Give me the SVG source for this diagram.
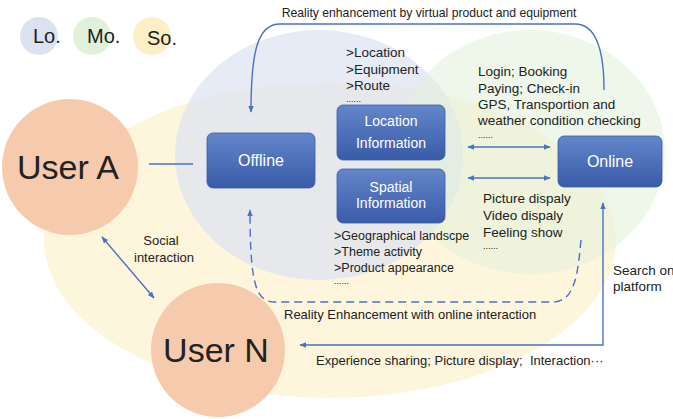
<svg xmlns="http://www.w3.org/2000/svg" width="673" height="419" viewBox="0 0 673 419">
  <defs>
    <linearGradient id="boxFill" x1="0" y1="0" x2="0" y2="1">
      <stop offset="0" stop-color="#6386ca"/>
      <stop offset="1" stop-color="#3a5ba8"/>
    </linearGradient>
    <marker id="arrow" viewBox="0 0 10 10" refX="9" refY="5" markerWidth="7" markerHeight="7" orient="auto-start-reverse" markerUnits="userSpaceOnUse">
      <path d="M0,1 L10,5 L0,9 Z" fill="#4a72c4"/>
    </marker>
    <style>
      text { font-family: "Liberation Sans", Arial, sans-serif; fill: #222; }
      .box { fill: url(#boxFill); stroke: #3a5ba8; stroke-width: 0.8; }
      .boxText { fill: #ffffff; text-anchor: middle; }
      .user { fill: #f6cbad; }
      .link { fill: none; stroke: #4a72c4; stroke-width: 1.4; }
      .dash { stroke-dasharray: 8 5; }
      .t13 { font-size: 13.5px; }
      .t12 { font-size: 12.5px; }
    </style>
  </defs>

  <!-- domain areas: social, location, mobile -->
  <g id="areas">
    <ellipse id="area-so" cx="330" cy="240" rx="286" ry="158" fill="#fdefc6" fill-opacity="0.6"/>
    <ellipse id="area-lo" cx="319" cy="155" rx="144" ry="125" fill="#dbe3f1" fill-opacity="0.7"/>
    <ellipse id="area-mo" cx="530" cy="152" rx="135" ry="122" fill="#e1f0d9" fill-opacity="0.55"/>
  </g>

  <!-- legend -->
  <g id="legend">
    <circle cx="39" cy="36" r="19" fill="#dbe3f1"/>
    <circle cx="92" cy="36" r="19" fill="#e1f0d9"/>
    <circle cx="152" cy="36" r="19" fill="#fdefc6"/>
    <text x="33" y="43" font-size="20">Lo.</text>
    <text x="87" y="43" font-size="20">Mo.</text>
    <text x="147" y="45" font-size="20">So.</text>
  </g>

  <!-- connectors -->
  <g id="connectors">
    <line class="link" x1="149" y1="164" x2="193" y2="164"/>
    <path class="link" d="M604 90 C604 50 596 24 575 24 L280 24 C258 24 251 50 251 112" marker-end="url(#arrow)"/>
    <line class="link" x1="468" y1="147" x2="550" y2="147" marker-start="url(#arrow)" marker-end="url(#arrow)"/>
    <line class="link" x1="468" y1="178" x2="550" y2="178" marker-start="url(#arrow)" marker-end="url(#arrow)"/>
    <line class="link" x1="102" y1="237" x2="154" y2="298" marker-start="url(#arrow)" marker-end="url(#arrow)"/>
    <path class="link dash" d="M581 240 C578 270 576 302 553 302 L275 302 C256 302 250 285 250 210" marker-end="url(#arrow)"/>
    <path class="link" d="M300 345 L603 345 L603 203" marker-start="url(#arrow)" marker-end="url(#arrow)"/>
  </g>

  <!-- users -->
  <g id="user-a">
    <circle class="user" cx="70" cy="167" r="68"/>
    <text x="68" y="179" font-size="34" text-anchor="middle">User A</text>
  </g>
  <g id="user-n">
    <circle class="user" cx="218" cy="350" r="67"/>
    <text x="216" y="362" font-size="34" text-anchor="middle">User N</text>
  </g>

  <!-- service nodes -->
  <g id="offline">
    <rect class="box" x="207" y="133" width="108" height="55" rx="6"/>
    <text class="boxText" x="261" y="166" font-size="16">Offline</text>
  </g>
  <g id="location-information">
    <rect class="box" x="337" y="105" width="108" height="55" rx="6"/>
    <text class="boxText" x="391" y="126" font-size="14">Location</text>
    <text class="boxText" x="391" y="148" font-size="14">Information</text>
  </g>
  <g id="spatial-information">
    <rect class="box" x="337" y="169" width="108" height="54" rx="6"/>
    <text class="boxText" x="391" y="192" font-size="14">Spatial</text>
    <text class="boxText" x="391" y="208" font-size="14">Information</text>
  </g>
  <g id="online">
    <rect class="box" x="558" y="136" width="104" height="51" rx="6"/>
    <text class="boxText" x="610" y="167" font-size="16">Online</text>
  </g>

  <!-- labels -->
  <g id="labels">
    <text x="429" y="17" font-size="12.2" text-anchor="middle">Reality enhancement by virtual product and equipment</text>

    <text class="t13" x="346" y="57">&gt;Location</text>
    <text class="t13" x="346" y="74">&gt;Equipment</text>
    <text class="t13" x="346" y="90">&gt;Route</text>
    <text x="346" y="102" font-size="9">......</text>

    <text class="t13" x="478" y="76">Login; Booking</text>
    <text class="t13" x="478" y="93">Paying; Check-in</text>
    <text class="t13" x="478" y="109">GPS, Transportion and</text>
    <text class="t13" x="478" y="125">weather condition checking</text>
    <text x="478" y="138" font-size="9">......</text>

    <text class="t13" x="483" y="203">Picture dispaly</text>
    <text class="t13" x="483" y="220">Video dispaly</text>
    <text class="t13" x="483" y="237">Feeling show</text>
    <text x="483" y="249" font-size="9">......</text>

    <text class="t12" x="334" y="240">&gt;Geographical landscpe</text>
    <text class="t12" x="334" y="256">&gt;Theme activity</text>
    <text class="t12" x="334" y="272">&gt;Product appearance</text>
    <text x="334" y="284" font-size="9">......</text>

    <text x="161" y="245" font-size="13" text-anchor="middle">Social</text>
    <text x="164" y="262" font-size="13" text-anchor="middle">interaction</text>

    <text class="t13" x="613" y="275">Search on</text>
    <text class="t13" x="613" y="291">platform</text>

    <text x="284" y="319" font-size="13">Reality Enhancement with online interaction</text>
    <text x="316" y="365" font-size="13" style="white-space:pre">Experience sharing; Picture display;  Interaction···</text>
  </g>
</svg>
